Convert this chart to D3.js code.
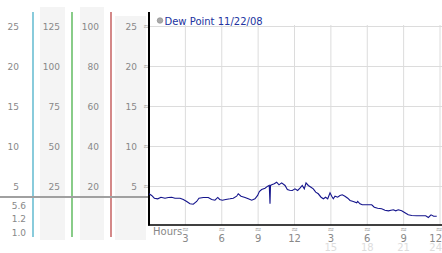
<!DOCTYPE html>
<html>
<head>
<meta charset="utf-8">
<script src="https://cdn.jsdelivr.net/npm/d3@7"></script>
<style>
  body { margin: 0; background: #fff; }
  svg { display: block; font-family: 'DejaVu Sans', sans-serif; }
</style>
</head>
<body>
<svg id="chart" width="442" height="253"></svg>
<script>
// dew point readings, hours since midnight
const hours = [0.00, 0.22, 0.44, 0.72, 0.99, 1.32, 1.59, 1.87, 2.14, 2.56, 2.83, 3.11, 3.38, 3.65, 3.93,
  4.12, 4.48, 4.89, 5.17, 5.44, 5.67, 5.83, 6.05, 6.33, 6.68, 6.95, 7.23, 7.36, 7.59, 7.92, 8.19, 8.47,
  8.74, 8.96, 9.10, 9.29, 9.57, 9.79, 9.92, 9.98, 10.02, 10.12, 10.33, 10.53, 10.72, 10.94, 11.22, 11.41,
  11.60, 11.82, 12.04, 12.26, 12.45, 12.64, 12.81, 12.95, 13.14, 13.36, 13.55, 13.75, 13.96, 14.19, 14.38,
  14.57, 14.74, 14.93, 15.07, 15.20, 15.34, 15.56, 15.75, 15.94, 16.16, 16.39, 16.58, 16.85, 17.13, 17.21,
  17.40, 17.59, 18.08, 18.37, 18.58, 18.86, 19.19, 19.46, 19.74, 19.96, 20.15, 20.35, 20.56, 20.84, 21.11,
  21.38, 21.67, 22.08, 22.49, 22.82, 23.04, 23.26, 23.48, 23.73];
const dewPoint = [4.09, 3.88, 3.54, 3.46, 3.66, 3.54, 3.63, 3.66, 3.54, 3.54, 3.38, 3.13, 2.84, 2.79, 3.13,
  3.54, 3.63, 3.63, 3.38, 3.29, 3.63, 3.38, 3.29, 3.38, 3.46, 3.54, 3.79, 4.09, 3.79, 3.63, 3.46, 3.29,
  3.46, 3.88, 4.38, 4.63, 4.79, 5.04, 5.13, 2.84, 5.13, 5.21, 5.34, 5.54, 5.21, 5.46, 5.13, 4.63,
  4.54, 4.50, 4.71, 4.50, 4.79, 5.13, 4.71, 5.46, 5.13, 4.91, 4.71, 4.29, 4.09, 3.66, 3.46,
  3.66, 3.46, 4.21, 3.79, 3.46, 3.79, 3.66, 3.88, 3.96, 3.79, 3.54, 3.25, 3.13, 2.96, 3.13,
  2.84, 2.71, 2.71, 2.71, 2.41, 2.29, 2.21, 2.04, 1.96, 2.04, 2.09, 1.96, 2.09, 1.96, 1.71,
  1.46, 1.38, 1.34, 1.34, 1.34, 1.13, 1.46, 1.29, 1.29];

const yTicks = [25, 20, 15, 10, 5];
const col1Labels = ['25', '20', '15', '10', '5'];
const col2Labels = ['125', '100', '75', '50', '25'];
const col3Labels = ['100', '80', '60', '40', '20'];
const col4Labels = ['25', '20', '15', '10', '5'];
const extraLabels = ['5.6', '1.2', '1.0'];
const hourTicks = [3, 6, 9, 12, 15, 18, 21, 24];
const hourLabels = ['3', '6', '9', '12', '3', '6', '9', '12'];
const hourLabels2 = ['15', '18', '21', '24'];
const legendText = 'Dew Point 11/22/08';

const svg = d3.select('#chart');

const x = d3.scaleLinear().domain([0, 24]).range([149, 440]);
const y = d3.scaleLinear().domain([0, 25]).range([226.5, 26.5]);

// anchor the last label inside the window
const anchorFor = h => (h === 24 ? 'end' : 'middle');
const xLabel = h => (h === 24 ? 442 : x(h));

// left side panel: shaded columns
const shades = [[40, 7, 25], [80, 7, 24], [115, 16, 31]];
svg.selectAll('rect.shade')
  .data(shades)
  .enter().append('rect')
  .attr('class', 'shade')
  .attr('x', d => d[0])
  .attr('y', d => d[1])
  .attr('width', d => d[2])
  .attr('height', d => 240 - d[1])
  .attr('fill', '#f4f4f4');

// coloured dividers
const dividers = [[33, '#3aa8c4'], [72, '#3aaa3a'], [111, '#b83a3a']];
svg.selectAll('line.divider')
  .data(dividers)
  .enter().append('line')
  .attr('class', 'divider')
  .attr('x1', d => d[0]).attr('x2', d => d[0])
  .attr('y1', 12).attr('y2', 237)
  .attr('stroke', d => d[1])
  .attr('stroke-width', 1.2);

// gridlines
const grid = svg.append('g');
grid.selectAll('line.h')
  .data(yTicks)
  .enter().append('line')
  .attr('x1', 149).attr('x2', 442)
  .attr('y1', d => y(d)).attr('y2', d => y(d))
  .attr('stroke', '#dcdcdc');
grid.selectAll('line.v')
  .data(hourTicks)
  .enter().append('line')
  .attr('x1', d => x(d)).attr('x2', d => x(d))
  .attr('y1', 25).attr('y2', 225)
  .attr('stroke', '#dcdcdc');

// gray baseline across the side panel
svg.append('line')
  .attr('x1', 0).attr('x2', 149)
  .attr('y1', 197).attr('y2', 197)
  .attr('stroke', '#a0a0a0')
  .attr('stroke-width', 2);

// column labels
const cols = [[19, col1Labels], [60, col2Labels], [99, col3Labels], [137, col4Labels]];
cols.forEach(([cx, labels]) => {
  svg.append('g').selectAll('text')
    .data(labels)
    .enter().append('text')
    .attr('x', cx)
    .attr('y', (d, i) => y(yTicks[i]) + 3.5)
    .attr('text-anchor', 'end')
    .attr('font-size', 9)
    .attr('fill', '#888')
    .text(d => d);
});

svg.append('g').selectAll('text')
  .data(extraLabels)
  .enter().append('text')
  .attr('x', 26)
  .attr('y', (d, i) => 208.5 + i * 13.7)
  .attr('text-anchor', 'end')
  .attr('font-size', 9)
  .attr('fill', '#888')
  .text(d => d);

// tiny tick markers
svg.append('g').selectAll('text')
  .data(yTicks)
  .enter().append('text')
  .attr('x', 146.5)
  .attr('y', d => y(d) + 2.5)
  .attr('text-anchor', 'middle')
  .attr('font-size', 8)
  .attr('fill', '#999')
  .text('≈');
svg.append('g').selectAll('text')
  .data(hourTicks)
  .enter().append('text')
  .attr('x', d => (d === 24 ? 439 : x(d)))
  .attr('y', 232)
  .attr('text-anchor', 'middle')
  .attr('font-size', 8)
  .attr('fill', '#999')
  .text('≈');

// axes lines
svg.append('line')
  .attr('x1', 149).attr('x2', 149)
  .attr('y1', 12).attr('y2', 225.5)
  .attr('stroke', '#000')
  .attr('stroke-width', 2);
svg.append('line')
  .attr('x1', 148).attr('x2', 442)
  .attr('y1', 225).attr('y2', 225)
  .attr('stroke', '#000')
  .attr('stroke-width', 1.5);

// hour labels
svg.append('text')
  .attr('x', 153).attr('y', 234.5)
  .attr('font-size', 10)
  .attr('fill', '#888')
  .text('Hours');
svg.append('g').selectAll('text')
  .data(hourLabels)
  .enter().append('text')
  .attr('x', (d, i) => xLabel(hourTicks[i]))
  .attr('y', 241.5)
  .attr('text-anchor', (d, i) => anchorFor(hourTicks[i]))
  .attr('font-size', 10)
  .attr('fill', '#888')
  .text(d => d);
svg.append('g').selectAll('text')
  .data(hourLabels2)
  .enter().append('text')
  .attr('x', (d, i) => xLabel(hourTicks[i + 4]))
  .attr('y', 251)
  .attr('text-anchor', (d, i) => anchorFor(hourTicks[i + 4]))
  .attr('font-size', 10)
  .attr('fill', '#ddd')
  .text(d => d);

// legend
svg.append('circle')
  .attr('cx', 160).attr('cy', 20.5).attr('r', 2.8)
  .attr('fill', '#aaa').attr('stroke', '#888').attr('stroke-width', 0.6);
svg.append('text')
  .attr('x', 164.5).attr('y', 24.5)
  .attr('font-size', 10)
  .attr('fill', '#2233a0')
  .text(legendText);

// dew point line
const data = hours.map((h, i) => ({ h, v: dewPoint[i] }));
const line = d3.line()
  .x(d => x(d.h))
  .y(d => y(d.v));
svg.append('path')
  .datum(data)
  .attr('fill', 'none')
  .attr('stroke', '#14148c')
  .attr('stroke-width', 1.1)
  .attr('d', line);
</script>
</body>
</html>
